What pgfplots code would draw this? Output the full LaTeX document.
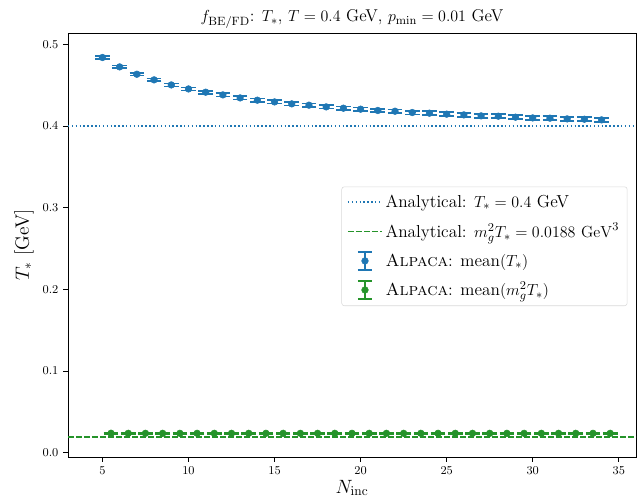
\documentclass[border=0pt]{standalone}
\usepackage{pgfplots}
\pgfplotsset{compat=1.18}

\definecolor{cblue}{HTML}{1F77B4}
\definecolor{cgreen}{HTML}{25932A}

% T_* estimates per N_inc (blue) and m_g^2 T_* (green, offset by 0.5)
\pgfplotstableread{
n    t       e
5    0.4840  0.0016
6    0.4725  0.0016
7    0.4635  0.0017
8    0.4566  0.0017
9    0.4504  0.0018
10   0.4455  0.0018
11   0.4415  0.0019
12   0.4382  0.0019
13   0.4345  0.0019
14   0.4317  0.0020
15   0.4296  0.0020
16   0.4272  0.0020
17   0.4256  0.0021
18   0.4235  0.0021
19   0.4219  0.0021
20   0.4207  0.0022
21   0.4191  0.0022
22   0.4182  0.0022
23   0.4166  0.0023
24   0.4158  0.0023
25   0.4146  0.0023
26   0.4137  0.0023
27   0.4125  0.0024
28   0.4121  0.0024
29   0.4109  0.0024
30   0.4100  0.0024
31   0.4097  0.0025
32   0.4088  0.0025
33   0.4084  0.0025
34   0.4076  0.0025
}\tstar

\pgfplotstableread{
n     m       e
5.5   0.0238  0.0009
6.5   0.0237  0.0009
7.5   0.0237  0.0009
8.5   0.0237  0.0009
9.5   0.0237  0.0009
10.5  0.0237  0.0009
11.5  0.0237  0.0009
12.5  0.0237  0.0009
13.5  0.0237  0.0009
14.5  0.0237  0.0009
15.5  0.0237  0.0009
16.5  0.0237  0.0009
17.5  0.0237  0.0009
18.5  0.0237  0.0009
19.5  0.0237  0.0009
20.5  0.0237  0.0009
21.5  0.0237  0.0009
22.5  0.0237  0.0009
23.5  0.0237  0.0009
24.5  0.0237  0.0009
25.5  0.0237  0.0009
26.5  0.0237  0.0009
27.5  0.0237  0.0009
28.5  0.0237  0.0009
29.5  0.0237  0.0009
30.5  0.0237  0.0009
31.5  0.0237  0.0009
32.5  0.0237  0.0009
33.5  0.0237  0.0009
34.5  0.0237  0.0009
}\mgt

\pgfplotsset{
  errleg/.style={
    legend image code/.code={
      \draw[line width=1.3pt,#1] (0.45cm,-0.24cm) -- (0.45cm,0.24cm);
      \draw[line width=1.3pt,#1] (0.26cm,-0.24cm) -- (0.64cm,-0.24cm);
      \draw[line width=1.3pt,#1] (0.26cm,0.24cm) -- (0.64cm,0.24cm);
      \fill[#1] (0.45cm,0cm) circle (2.5pt);
    }
  }
}

\begin{document}
\begin{tikzpicture}
\begin{axis}[
  width=426pt, height=318pt, scale only axis,
  xmin=3, xmax=36, ymin=-0.0053, ymax=0.514,
  xtick={5,10,...,35},
  ytick={0,0.1,0.2,0.3,0.4,0.5},
  yticklabel style={/pgf/number format/fixed,/pgf/number format/fixed zerofill,/pgf/number format/precision=1},
  tick label style={font=\fontsize{9}{10}\selectfont},
  tick align=outside, xtick pos=bottom, ytick pos=left,
  major tick length=3.7pt,
  axis line style={line width=0.7pt},
  tick style={line width=0.7pt, black},
  xlabel={$N_{\mathrm{inc}}$},
  ylabel={$T_*$ [GeV]},
  label style={font=\fontsize{14.5}{16}\selectfont},
  xlabel style={at={(axis description cs:0.5,-0.073)}, anchor=center},
  ylabel style={at={(axis description cs:-0.0775,0.5)}, anchor=center},
  title={$f_{\mathrm{BE/FD}}$: $T_*$, $T=0.4$ GeV, $p_{\min}=0.01$ GeV},
  title style={font=\fontsize{12.8}{14}\selectfont, at={(0.5,1)}, anchor=south, yshift=-6pt},
  legend style={at={(0.985,0.497)}, anchor=east, draw=black!15, rounded corners=2pt,
    font=\fontsize{13}{15}\selectfont, row sep=6.5pt, inner sep=4pt},
  legend cell align=left,
  clip=true,
]
\addplot[cblue, line width=1.1pt, dash pattern=on 1.1pt off 1.8pt,
  legend image post style={xscale=1.5}]
  coordinates {(3,0.4) (36,0.4)};
\addlegendentry{Analytical: $T_*=0.4$ GeV}
\addplot[color=cgreen, line width=1.3pt, dash pattern=on 4.2pt off 1.8pt,
  legend image post style={xscale=1.5}]
  coordinates {(3,0.0188) (36,0.0188)};
\addlegendentry{Analytical: $m_g^2T_*=0.0188\ \mathrm{GeV}^3$}
\addplot[cblue, only marks, mark=*, mark size=2.5pt, errleg=cblue,
  error bars/.cd, y dir=both, y explicit,
  error mark=|, error mark options={line width=1.3pt, mark size=5.5pt, cblue},
  error bar style={line width=1.3pt, cblue}]
  table[x=n, y=t, y error=e] {\tstar};
\addlegendentry{\textsc{Alpaca}: mean$(T_*)$}
\addplot[cgreen, only marks, mark=*, mark size=2.5pt, errleg=cgreen,
  error bars/.cd, y dir=both, y explicit,
  error mark=|, error mark options={line width=1.3pt, mark size=5.5pt, cgreen},
  error bar style={line width=1.3pt, cgreen}]
  table[x=n, y=m, y error=e] {\mgt};
\addlegendentry{\textsc{Alpaca}: mean$(m_g^2T_*)$}
\end{axis}
% fixed page frame around the axis
\pgfresetboundingbox
\path ([xshift=-51pt,yshift=-33pt]current axis.south west)
  rectangle ([xshift=2.25pt,yshift=24.75pt]current axis.north east);
\end{tikzpicture}
\end{document}
